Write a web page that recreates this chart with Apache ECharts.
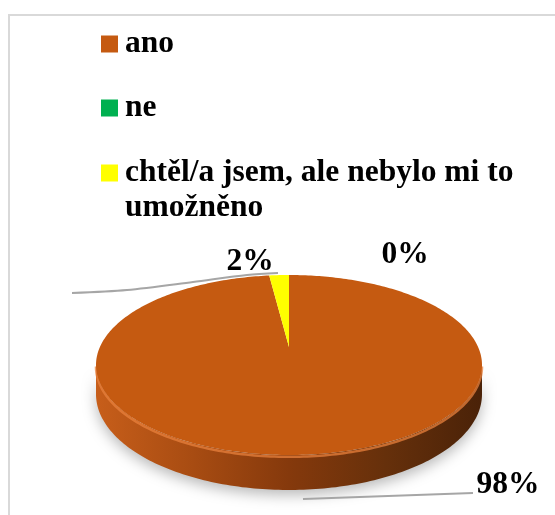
<!DOCTYPE html>
<html>
<head>
<meta charset="utf-8">
<script src="https://cdn.jsdelivr.net/npm/echarts@6/dist/echarts.min.js"></script>
<style>
  html, body { margin: 0; padding: 0; background: #ffffff; }
  #chart { width: 555px; height: 515px; }
</style>
</head>
<body>
<div id="chart"></div>
<script>
// Survey answers and their shares
const categories = ['ano', 'ne', 'chtěl/a jsem, ale nebylo mi to umožněno'];
const values = [98, 0, 2];

// Slice colours (top face)
const sliceColors = ['#C55A11', '#00B050', '#FFFF00'];

// Tilted-disc geometry (perspective projection of a flat cylinder)
const PIE = { cx: 289, cy: 347, rx: 189.1, ry: 86.4, persp: 0.2, depth: 28 };

// Percentage label placement and leader lines, per category
const labelLayout = [
  { pos: [508, 485], line: [[303, 499], [473, 493]] },
  { pos: [405, 255], line: null },
  { pos: [250, 262], line: [[72, 293], [127, 290], [193, 282], [247, 275], [278, 273]] }
];

const FONT = '"Liberation Serif", "Times New Roman", serif';
const FONT_SIZE = 31.5;
const total = values.reduce((a, b) => a + b, 0);

// Point on the rim at angle phi (clockwise from 12 o'clock), dropped by "drop" px of wall
function project(phi, drop) {
  const u = Math.sin(phi), v = -Math.cos(phi);
  const s = 1 / (1 - PIE.persp * v);
  return [PIE.cx + PIE.rx * u * s, PIE.cy + PIE.ry * v * s + drop * s];
}
function arc(a0, a1, drop) {
  const pts = [];
  const n = Math.max(2, Math.ceil(Math.abs(a1 - a0) / (Math.PI / 180)));
  for (let j = 0; j <= n; j++) pts.push(project(a0 + (a1 - a0) * j / n, drop));
  return pts;
}
function sliceRange(i) {
  let before = 0;
  for (let j = 0; j < i; j++) before += values[j];
  const a0 = before / total * Math.PI * 2;
  return [a0, a0 + values[i] / total * Math.PI * 2];
}

// Front part of the wall that faces the viewer
const FRONT_L = Math.acos(-PIE.persp);
const FRONT_R = Math.PI * 2 - FRONT_L;

function renderSlice(params, api) {
  const i = params.seriesIndex;
  const val = api.value(0);
  const [a0, a1] = sliceRange(i);
  const children = [];

  if (val > 0) {
    // outer wall
    const w0 = Math.max(a0, FRONT_L), w1 = Math.min(a1, FRONT_R);
    if (w1 > w0) {
      const top = arc(w0, w1, 0);
      const bottom = arc(w0, w1, PIE.depth).reverse();
      children.push({
        type: 'polygon',
        shape: { points: top.concat(bottom) },
        style: {
          fill: new echarts.graphic.LinearGradient(0, 0, 1, 0, [
            { offset: 0, color: '#C75E1A' },
            { offset: 0.25, color: '#A84C12' },
            { offset: 0.5, color: '#85390C' },
            { offset: 0.75, color: '#66300B' },
            { offset: 1, color: '#4A2208' }
          ]),
          shadowBlur: 14,
          shadowColor: 'rgba(0,0,0,0.28)',
          shadowOffsetY: 5
        }
      });
      // bevel highlight where the face meets the wall
      children.push({
        type: 'polyline',
        shape: { points: arc(w0, w1, 1.5) },
        style: { stroke: 'rgba(232,128,60,0.75)', lineWidth: 2.5, fill: null }
      });
    }
    // top face
    children.push({
      type: 'polygon',
      shape: { points: [[PIE.cx, PIE.cy]].concat(arc(a0, a1, 0)) },
      style: { fill: sliceColors[i] }
    });
  }

  // percentage label with optional leader line
  const lay = labelLayout[i];
  if (lay.line) {
    children.push({
      type: 'polyline',
      shape: { points: lay.line, smooth: 0.3 },
      style: { stroke: '#A6A6A6', lineWidth: 2, fill: null }
    });
  }
  children.push({
    type: 'text',
    x: lay.pos[0], y: lay.pos[1],
    style: {
      text: Math.round(val / total * 100) + '%',
      fontFamily: FONT, fontWeight: 'bold', fontSize: FONT_SIZE,
      fill: '#000000', align: 'center', verticalAlign: 'middle'
    }
  });
  return { type: 'group', children: children };
}

const legendText = { fontFamily: FONT, fontWeight: 'bold', fontSize: FONT_SIZE, color: '#000000', lineHeight: 35 };
const legendBase = {
  orient: 'vertical', left: 101, padding: 0, itemGap: 0,
  icon: 'rect', itemWidth: 17, itemHeight: 17,
  textStyle: Object.assign({ padding: [0, 0, 0, 2] }, legendText)
};

const chart = echarts.init(document.getElementById('chart'), null, { renderer: 'canvas' });
chart.setOption({
  animation: false,
  backgroundColor: '#ffffff',
  graphic: [
    { type: 'polyline', silent: true, shape: { points: [[9, 515], [9, 15], [555, 15]] },
      style: { stroke: '#D9D9D9', lineWidth: 2, fill: null } }
  ],
  legend: [
    Object.assign({}, legendBase, { data: [categories[0]], top: 26.5 }),
    Object.assign({}, legendBase, { data: [categories[1]], top: 90.5 }),
    Object.assign({}, legendBase, {
      data: [categories[2]], top: 120.5,
      // blank first row keeps the marker level with the first text line
      formatter: name => '{gap| }\n{t|' + name.replace(' umožněno', '}\n{t|umožněno') + '}',
      textStyle: Object.assign({}, legendBase.textStyle, {
        rich: {
          gap: Object.assign({}, legendText),
          t: Object.assign({}, legendText)
        }
      })
    })
  ],
  series: categories.map((name, i) => ({
    type: 'custom',
    name: name,
    coordinateSystem: 'none',
    itemStyle: { color: sliceColors[i] },
    renderItem: renderSlice,
    data: [[values[i]]]
  }))
});
</script>
</body>
</html>
